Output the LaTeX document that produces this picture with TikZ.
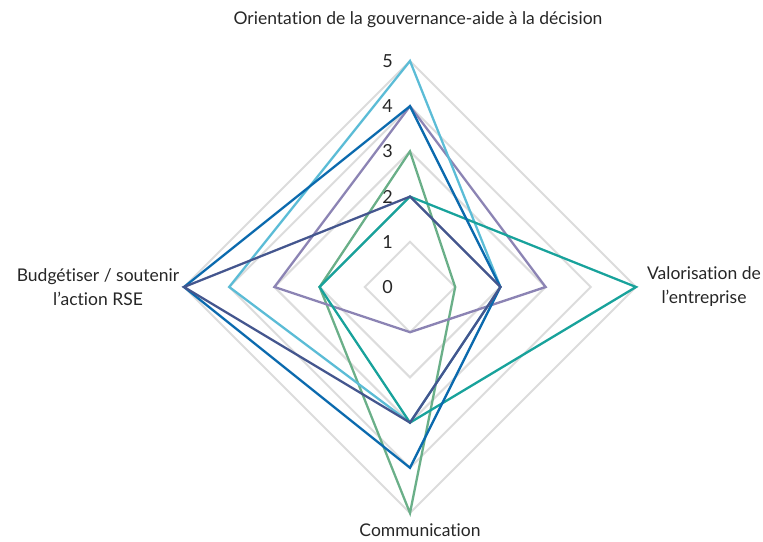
\documentclass[tikz,border=0pt]{standalone}
\usepackage{fontspec}
\setmainfont{Lato}[Ligatures={NoCommon}]
\usepackage{tikz}
\definecolor{gridgray}{HTML}{DCDCDC}
\definecolor{serA}{HTML}{5BBCD6}
\definecolor{serB}{HTML}{0B6AAE}
\definecolor{serC}{HTML}{8C84B4}
\definecolor{serD}{HTML}{6AAF88}
\definecolor{serE}{HTML}{18A29B}
\definecolor{serF}{HTML}{44568E}
\tikzset{
  gridline/.style={draw=gridgray, line width=2pt},
  serie/.style={line width=2.3pt, line join=miter},
  axlabel/.style={font=\fontsize{17.5}{24}\selectfont, text=black!85, align=center, inner sep=0pt},
  ticklabel/.style={font=\fontsize{18}{20}\selectfont, text=black!85, anchor=east, inner sep=0pt}
}
\begin{document}
\begin{tikzpicture}[x=1pt,y=-1pt]
\newcommand{\cx}{410}
\newcommand{\cy}{287}
\newcommand{\lvl}{45.2}
\useasboundingbox (0,0) rectangle (763,541);

% grid
\foreach \k in {1,...,5}
  \draw[gridline] ({\cx},{\cy-\k*\lvl}) -- ({\cx+\k*\lvl},{\cy}) -- ({\cx},{\cy+\k*\lvl}) -- ({\cx-\k*\lvl},{\cy}) -- cycle;

% scale
\foreach \k in {0,...,5}
  \node[ticklabel] (t\k) at ({\cx-17},{\cy-\k*\lvl}) {\k};

% series: top, right, bottom, left
\foreach \col/\a/\b/\c/\d in {serD/3/1/5/2, serC/4/3/1/3, serA/5/2/3/4, serE/2/5/3/2, serB/4/2/4/5, serF/2/2/3/5}
  \draw[serie, draw=\col] ({\cx},{\cy-\a*\lvl}) -- ({\cx+\b*\lvl},{\cy}) -- ({\cx},{\cy+\c*\lvl}) -- ({\cx-\d*\lvl},{\cy}) -- cycle;

% axes
\node[axlabel] (gouv) at (418,20) {Orientation de la gouvernance-aide à la décision};
\node[axlabel] (valo) at (704,287) {Valorisation de\\l’entreprise};
\node[axlabel] (comm) at (420,530) {Communication};
\node[axlabel] (budg) at (98,287) {Budgétiser / soutenir\\l’action RSE};
\end{tikzpicture}
\end{document}
